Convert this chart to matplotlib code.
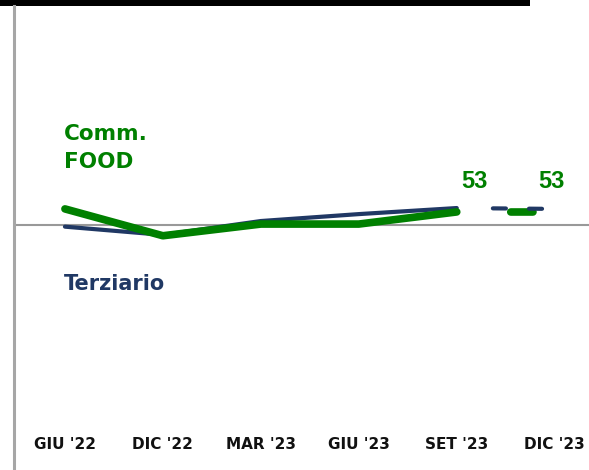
import numpy as np
import matplotlib
matplotlib.use("Agg")
import matplotlib.pyplot as plt
from matplotlib.patches import Rectangle
from matplotlib.lines import Line2D

plt.rcParams['lines.scale_dashes'] = False

# Data
periods = ["GIU '22", "DIC '22", "MAR '23", "GIU '23", "SET '23", "DIC '23"]
food = [53.7, 47.5, 50.2, 50.2, 53.0]          # Comm. FOOD, observed
terziario = [49.6, 47.7, 50.9, 52.5, 53.9]     # Terziario, observed
food_forecast = [53.0, 53.0]                   # SET '23 -> DIC '23
terziario_forecast = [53.9, 53.7]
food_labels = ["53", "53"]
baseline = 50

green = '#008000'
navy = '#203864'

fig = plt.figure(figsize=(5.89, 4.70), dpi=100)
W, H = 589, 470
ax = fig.add_axes([14 / W, 0, 1 - 14 / W, (H - 8) / H])
ax.set_xlim(-0.52, 5.35)
ax.set_ylim(-6.6, 100.1)
ax.axis('off')

x = np.arange(len(periods))
xo = x[:len(food)]
xf = x[len(food) - 1:]

# baseline
ax.axhline(baseline, color='#999999', lw=1.5, zorder=1)

# observed lines
ax.plot(xo, terziario, color=navy, lw=3, solid_capstyle='round', zorder=2)
ax.plot(xo, food, color=green, lw=5.5, solid_capstyle='round', zorder=3)

# forecast lines (dashed)
ax.plot(xf, food_forecast, color=green, lw=5.5, dash_capstyle='round',
        linestyle=(37.3, (16, 60)), zorder=4)
ax.plot(xf, terziario_forecast, color=navy, lw=3, dash_capstyle='round',
        linestyle=(35.4, (9.4, 16.6, 9.4, 26)), zorder=5)

# value labels
ax.text(xf[0] + 0.18, 57.4, food_labels[0], color=green, fontsize=17,
        fontweight='bold', family='Liberation Sans', ha='center', va='bottom')
ax.text(xf[1] - 0.03, 57.4, food_labels[1], color=green, fontsize=17,
        fontweight='bold', family='Liberation Sans', ha='center', va='bottom')

# series names
ax.text(-0.01, 67.7, "Comm.\nFOOD", color=green, fontsize=15.5,
        fontweight='bold', ha='left', va='center', linespacing=1.5)
ax.text(-0.01, 36.4, "Terziario", color=navy, fontsize=15,
        fontweight='bold', ha='left', va='center')

# x labels
for xi, lab in zip(x, periods):
    ax.text(xi, -0.6, lab, fontsize=11, fontweight='bold', color='#111111',
            ha='center', va='center')

# frame bits: top black bar and left gray rule
fig.add_artist(Rectangle((0, (H - 6) / H), 530 / W, 6 / H,
                         transform=fig.transFigure, color='black', lw=0))
fig.add_artist(Line2D([14 / W, 14 / W], [0, (H - 6) / H],
                      transform=fig.transFigure, color='#a6a6a6', lw=2.2))

fig.savefig('out.png', dpi=100)
